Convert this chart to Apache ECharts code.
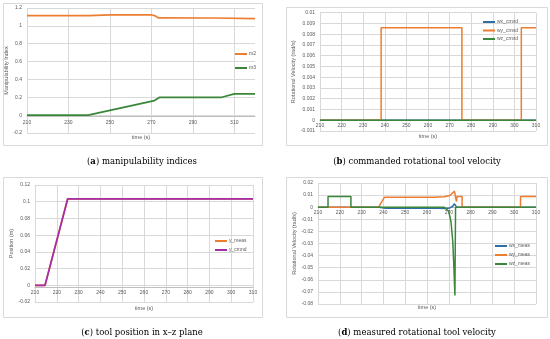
<!DOCTYPE html>
<html><head><meta charset="utf-8">
<script src="https://cdn.jsdelivr.net/npm/echarts@6/dist/echarts.min.js"></script>
<style>html,body{margin:0;padding:0;background:#fff}#c{width:550px;height:339px}</style>
</head><body><div id="c"></div>
<script>
// (a) manipulability indices
const tA_m2 = [210, 240, 250, 270, 271.5, 273.5, 300, 320];
const m2 = [1.114, 1.114, 1.124, 1.122, 1.115, 1.089, 1.088, 1.082];
const tA_m3 = [210, 239.5, 271.5, 274, 304, 310, 320];
const m3 = [0, 0, 0.163, 0.2, 0.2, 0.238, 0.238];
const ticksA = [210, 230, 250, 270, 290, 310];
// (b) commanded rotational tool velocity
const tB_wx = [210, 310];
const wx_cmnd = [0, 0];
const tB_wy = [210, 238.3, 238.3, 275.7, 275.7, 303.2, 303.2, 310];
const wy_cmnd = [0, 0, 0.0086, 0.0086, 0, 0, 0.0086, 0.0086];
const tB_wz = [210, 310];
const wz_cmnd = [0, 0];
// (c) tool position
const tC = [210, 214.6, 225, 310];
const y_meas = [0, 0, 0.1035, 0.1035];
const y_cmnd = [0, 0, 0.1035, 0.1035];
// (d) measured rotational tool velocity
const tD_wx = [210, 238, 241, 265, 268.5, 270.5, 271.8, 272.6, 273.2, 273.6, 310];
const wx_meas = [0, 0, -0.0008, -0.0009, -0.001, -0.0006, 0.0008, 0.0028, 0.003, 0, 0];
const tD_wy = [210, 237.8, 240.5, 263.5, 268, 270.5, 272.6, 273.5, 273.8, 276.1, 276.1, 302.9, 302.9, 310];
const wy_meas = [0, 0, 0.0083, 0.0083, 0.0087, 0.0097, 0.0133, 0.0046, 0.0088, 0.0088, 0, 0, 0.0088, 0.0088];
const tD_wz = [210, 214.6, 214.6, 225.1, 225.1, 268, 270, 271, 271.8, 272.3, 272.8, 273.1, 310];
const wz_meas = [0, 0, 0.0088, 0.0088, 0, 0, -0.0036, -0.012, -0.028, -0.048, -0.073, 0, 0];

const zip = (t, v) => t.map((x, i) => [x, v[i]]);
const C = {blue: '#2f6ea5', orange: '#ed7d31', green: '#3a863a', purple: '#a32ea8'};
const lab = {color: '#595959', fontSize: 5, fontFamily: 'Liberation Sans'};
const grid = '#d9d9d9';

function xAx(gi, opt) {
  return Object.assign({
    type: 'value', gridIndex: gi, min: 210, max: 310, interval: 10,
    axisLine: {onZero: false, lineStyle: {color: '#bfbfbf', width: 1}},
    axisTick: {show: false},
    axisLabel: Object.assign({margin: 3}, lab),
    splitLine: {show: true, lineStyle: {color: grid, width: 1}},
    name: 'time (s)', nameLocation: 'middle',
    nameTextStyle: Object.assign({}, lab, {fontSize: 5.5})
  }, opt);
}
function yAx(gi, opt) {
  return Object.assign({
    type: 'value', gridIndex: gi,
    axisLine: {show: false, onZero: false}, axisTick: {show: false},
    axisLabel: Object.assign({margin: 5}, lab),
    splitLine: {show: true, lineStyle: {color: grid, width: 1}},
    nameLocation: 'middle', nameRotate: 90,
    nameTextStyle: Object.assign({}, lab, {fontSize: 5.5})
  }, opt);
}
function ln(name, t, v, color, xi, w) {
  return {name, type: 'line', xAxisIndex: xi, yAxisIndex: xi, data: zip(t, v),
    showSymbol: false, symbol: 'none', animation: false,
    lineStyle: {color, width: w || 1.5}, itemStyle: {color}};
}
function leg(names, left, top, gap) {
  return {data: names, orient: 'vertical', left, top, padding: 0, itemWidth: 12, itemHeight: 2,
    itemGap: gap, icon: 'rect', textStyle: Object.assign({}, lab, {lineHeight: 6, padding: [0, 0, 0, -3]}),
    selectedMode: false};
}
function cap(letter, text, cx, top) {
  return {text: '({b|' + letter + '}) ' + text, left: cx, top, textAlign: 'center',
    textStyle: {fontFamily: 'DejaVu Serif', fontSize: 8.5, fontWeight: 'normal', color: '#000',
      rich: {b: {fontFamily: 'DejaVu Serif', fontSize: 8.5, fontWeight: 'bold', color: '#000'}}}};
}
const box = (x, y, w, h) => ({type: 'rect', shape: {x, y, width: w, height: h}, silent: true,
  style: {fill: 'none', stroke: '#d9d9d9', lineWidth: 1}});
const g = (left, top, width, height) => ({left, top, width, height, outerBoundsMode: 'none', containLabel: false});

const chart = echarts.init(document.getElementById('c'), null, {renderer: 'canvas'});
chart.setOption({
  animation: false,
  backgroundColor: '#fff',
  graphic: [box(3.5, 3.5, 259, 142), box(286.5, 7.5, 261, 138), box(3.5, 177.5, 259, 140), box(286.5, 177.5, 261, 140)],
  title: [
    cap('a', 'manipulability indices', 137, 152),
    cap('b', 'commanded rotational tool velocity', 412, 152),
    cap('c', 'tool position in x\u2013z plane', 137, 323),
    cap('d', 'measured rotational tool velocity', 412, 323)
  ],
  grid: [
    g(27, 8, 228, 125),
    g(320, 12.7, 216, 118.3),
    g(35, 185, 218, 117),
    g(318, 183, 218, 121)
  ],
  xAxis: [
    xAx(0, {max: 320, interval: null, offset: -17, nameGap: 18,
      axisLabel: Object.assign({margin: 4, customValues: ticksA}, lab),
      axisTick: {show: false, customValues: ticksA},
      splitLine: {show: true, customValues: ticksA, lineStyle: {color: grid, width: 1}}}),
    xAx(1, {offset: -11, nameGap: 13}),
    xAx(2, {offset: -15, nameGap: 18}),
    xAx(3, {offset: -97, nameGap: 97})
  ],
  yAxis: [
    yAx(0, {min: -0.2, max: 1.2, interval: 0.2, name: 'Manipulability Index', nameGap: 12}),
    yAx(1, {min: -0.001, max: 0.01, interval: 0.001, name: 'Rotational Velocity (rad/s)', nameGap: 23}),
    yAx(2, {min: -0.02, max: 0.12, interval: 0.02, name: 'Position (m)', nameGap: 19}),
    yAx(3, {min: -0.08, max: 0.02, interval: 0.01, name: 'Rotational Velocity (rad/s)', nameGap: 20})
  ],
  legend: [
    leg(['m2', 'm3'], 235, 51, 8),
    leg(['wx_cmnd', 'wy_cmnd', 'wz_cmnd'], 483, 19, 2.5),
    leg(['y_meas', 'y_cmnd'], 215, 238, 3),
    leg(['wx_meas', 'wy_meas', 'wz_meas'], 495, 243, 3)
  ],
  series: [
    ln('m2', tA_m2, m2, C.orange, 0, 1.7),
    ln('m3', tA_m3, m3, C.green, 0, 1.7),
    ln('wx_cmnd', tB_wx, wx_cmnd, C.blue, 1),
    ln('wy_cmnd', tB_wy, wy_cmnd, C.orange, 1),
    ln('wz_cmnd', tB_wz, wz_cmnd, C.green, 1),
    ln('y_meas', tC, y_meas, C.orange, 2, 1.7),
    ln('y_cmnd', tC, y_cmnd, C.purple, 2, 1.7),
    ln('wx_meas', tD_wx, wx_meas, C.blue, 3),
    ln('wy_meas', tD_wy, wy_meas, C.orange, 3),
    ln('wz_meas', tD_wz, wz_meas, C.green, 3)
  ]
});
</script></body></html>
